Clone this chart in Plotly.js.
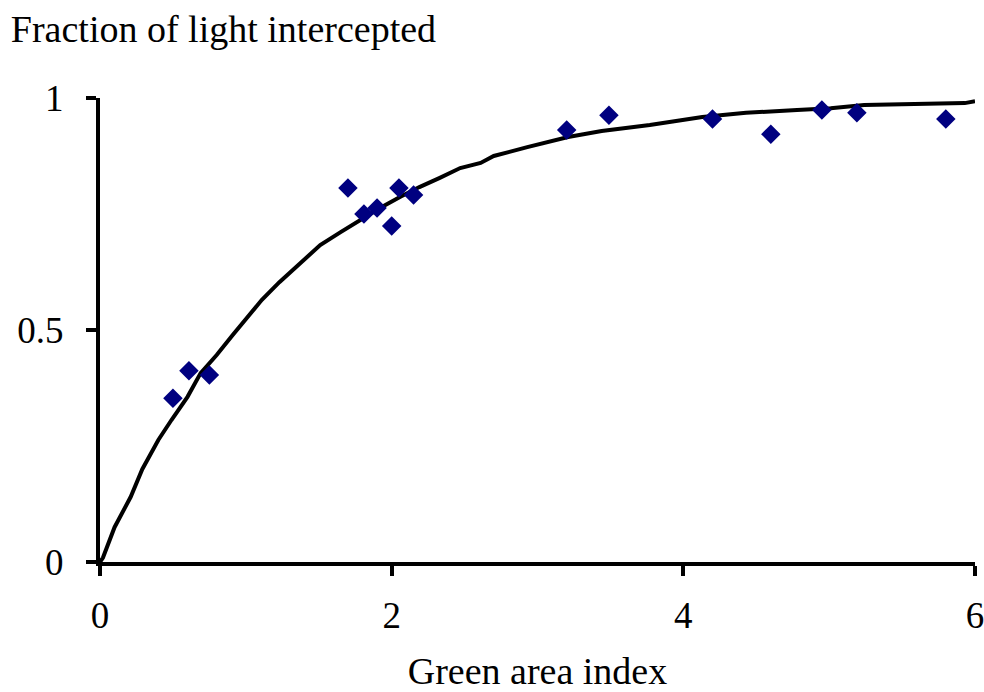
<!DOCTYPE html>
<html>
<head>
<meta charset="utf-8">
<script src="https://cdn.plot.ly/plotly-3.0.1.min.js"></script>
<style>html,body{margin:0;padding:0;background:#fff;}#chart{width:984px;height:692px;}</style>
</head>
<body>
<div id="chart"></div>
<script>
// Observed data (diamonds)
const obsGAI = [0.50, 0.61, 0.75, 1.70, 1.81, 1.90, 2.00, 2.05, 2.15, 3.20, 3.49, 4.20, 4.60, 4.95, 5.19, 5.80];
const obsFrac = [0.353, 0.412, 0.403, 0.806, 0.750, 0.763, 0.724, 0.806, 0.791, 0.931, 0.963, 0.955, 0.922, 0.974, 0.968, 0.955];

// Fitted curve
const curveGAI = [0, 0.02, 0.10, 0.21, 0.29, 0.40, 0.49, 0.60, 0.69, 0.80, 0.91, 1.01, 1.11, 1.23, 1.37, 1.51, 1.65, 1.78, 1.92, 2.06, 2.19, 2.33, 2.47, 2.61, 2.70, 2.93, 3.21, 3.44, 3.77, 4.13, 4.43, 4.78, 5.01, 5.24, 5.54, 5.93, 6.0];
const curveFrac = [0, 0.009, 0.075, 0.14, 0.20, 0.263, 0.306, 0.356, 0.407, 0.446, 0.489, 0.526, 0.565, 0.603, 0.644, 0.683, 0.711, 0.737, 0.763, 0.787, 0.808, 0.828, 0.849, 0.860, 0.875, 0.894, 0.916, 0.929, 0.942, 0.959, 0.968, 0.974, 0.978, 0.985, 0.987, 0.989, 0.993];

const xTicks = [0, 2, 4, 6];
const yTicks = [0, 0.5, 1];
const yTickText = ['0', '0.5', '1'];

const font = 'Liberation Serif, Times New Roman, serif';

const traces = [
  {
    x: curveGAI, y: curveFrac, type: 'scatter', mode: 'lines',
    line: {color: '#000000', width: 4}, hoverinfo: 'skip', showlegend: false
  },
  {
    x: obsGAI, y: obsFrac, type: 'scatter', mode: 'markers',
    marker: {symbol: 'diamond', color: '#000080', size: 15, line: {width: 0}},
    showlegend: false
  }
];

const layout = {
  width: 984, height: 692,
  paper_bgcolor: '#ffffff', plot_bgcolor: '#ffffff',
  margin: {l: 100, r: 9, t: 98, b: 130},
  font: {family: font, color: '#000000', size: 37},
  title: {
    text: 'Fraction of light intercepted',
    font: {family: font, size: 38, color: '#000'},
    x: 0.011, xanchor: 'left', xref: 'container',
    y: 0.978, yanchor: 'top', yref: 'container'
  },
  xaxis: {
    range: [0, 6], tickvals: xTicks, ticktext: xTicks.map(String),
    showgrid: false, zeroline: false,
    showline: true, linecolor: '#000', linewidth: 4,
    ticks: 'outside', ticklen: 10, tickwidth: 4, tickcolor: '#000',
    tickfont: {family: font, size: 37},
    ticklabelstandoff: 8,
    ticklabeloverflow: 'allow',
    title: {text: 'Green area index', font: {family: font, size: 38}, standoff: 24}
  },
  yaxis: {
    range: [0, 1], tickvals: yTicks, ticktext: yTickText,
    showgrid: false, zeroline: false,
    showline: true, linecolor: '#000', linewidth: 4,
    ticks: 'outside', ticklen: 10, tickwidth: 4, tickcolor: '#000',
    tickfont: {family: font, size: 37},
    ticklabelstandoff: 15,
    ticklabeloverflow: 'allow'
  },
  showlegend: false
};

Plotly.newPlot('chart', traces, layout, {displayModeBar: false, staticPlot: true});
</script>
</body>
</html>
